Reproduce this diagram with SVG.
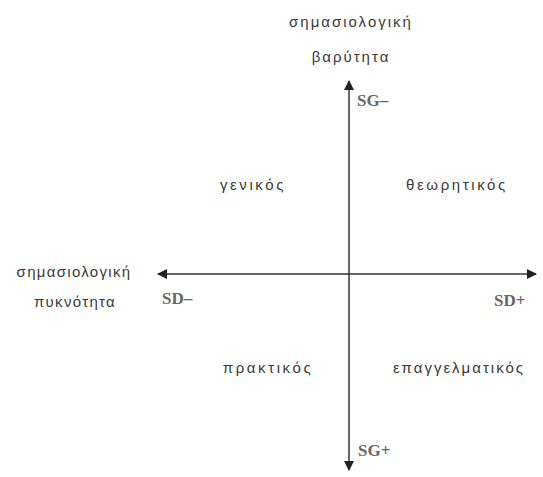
<svg xmlns="http://www.w3.org/2000/svg" width="543" height="477" viewBox="0 0 543 477">
<style>
.lbl{font-family:"Liberation Sans",Arial,sans-serif;font-size:15px;fill:#3a3a3a;text-anchor:middle;letter-spacing:2px}
.q{letter-spacing:2.6px}
.pole{font-family:"Liberation Serif","Times New Roman",serif;font-size:17px;font-weight:bold;fill:#666}
.ax{stroke:#333;stroke-width:1.5;fill:none}
</style>
<defs>
<marker id="ah" viewBox="0 0 10 10" refX="9" refY="5" markerWidth="10" markerHeight="10" markerUnits="userSpaceOnUse" orient="auto">
<path d="M0,0 L10,5 L0,10 z" fill="#222"/>
</marker>
</defs>
<rect width="543" height="477" fill="#fff"/>
<g id="connectors">
<line class="ax" x1="349" y1="275" x2="349" y2="81" marker-end="url(#ah)"/>
<line class="ax" x1="349" y1="275" x2="349" y2="470" marker-end="url(#ah)"/>
<line class="ax" x1="349" y1="274" x2="158" y2="274" marker-end="url(#ah)"/>
<line class="ax" x1="349" y1="274" x2="536" y2="274" marker-end="url(#ah)"/>
</g>
<g id="top-label"><text class="lbl" x="351" y="27">σημασιολογική</text><text class="lbl" x="351" y="62">βαρύτητα</text></g>
<g id="left-label"><text class="lbl" x="74" y="277" style="letter-spacing:1.3px">σημασιολογική</text><text class="lbl" x="75" y="307" style="letter-spacing:1.3px">πυκνότητα</text></g>
<g id="sg-minus"><text class="pole" x="357" y="106">SG–</text></g>
<g id="sg-plus"><text class="pole" x="358" y="456">SG+</text></g>
<g id="sd-minus"><text class="pole" x="162" y="304">SD–</text></g>
<g id="sd-plus"><text class="pole" x="494" y="306">SD+</text></g>
<g id="genikos"><text class="lbl q" x="253" y="190">γενικός</text></g>
<g id="theoritikos"><text class="lbl q" x="457" y="190">θεωρητικός</text></g>
<g id="praktikos"><text class="lbl q" x="268" y="373">πρακτικός</text></g>
<g id="epaggelmatikos"><text class="lbl" x="459" y="373">επαγγελματικός</text></g>
</svg>
